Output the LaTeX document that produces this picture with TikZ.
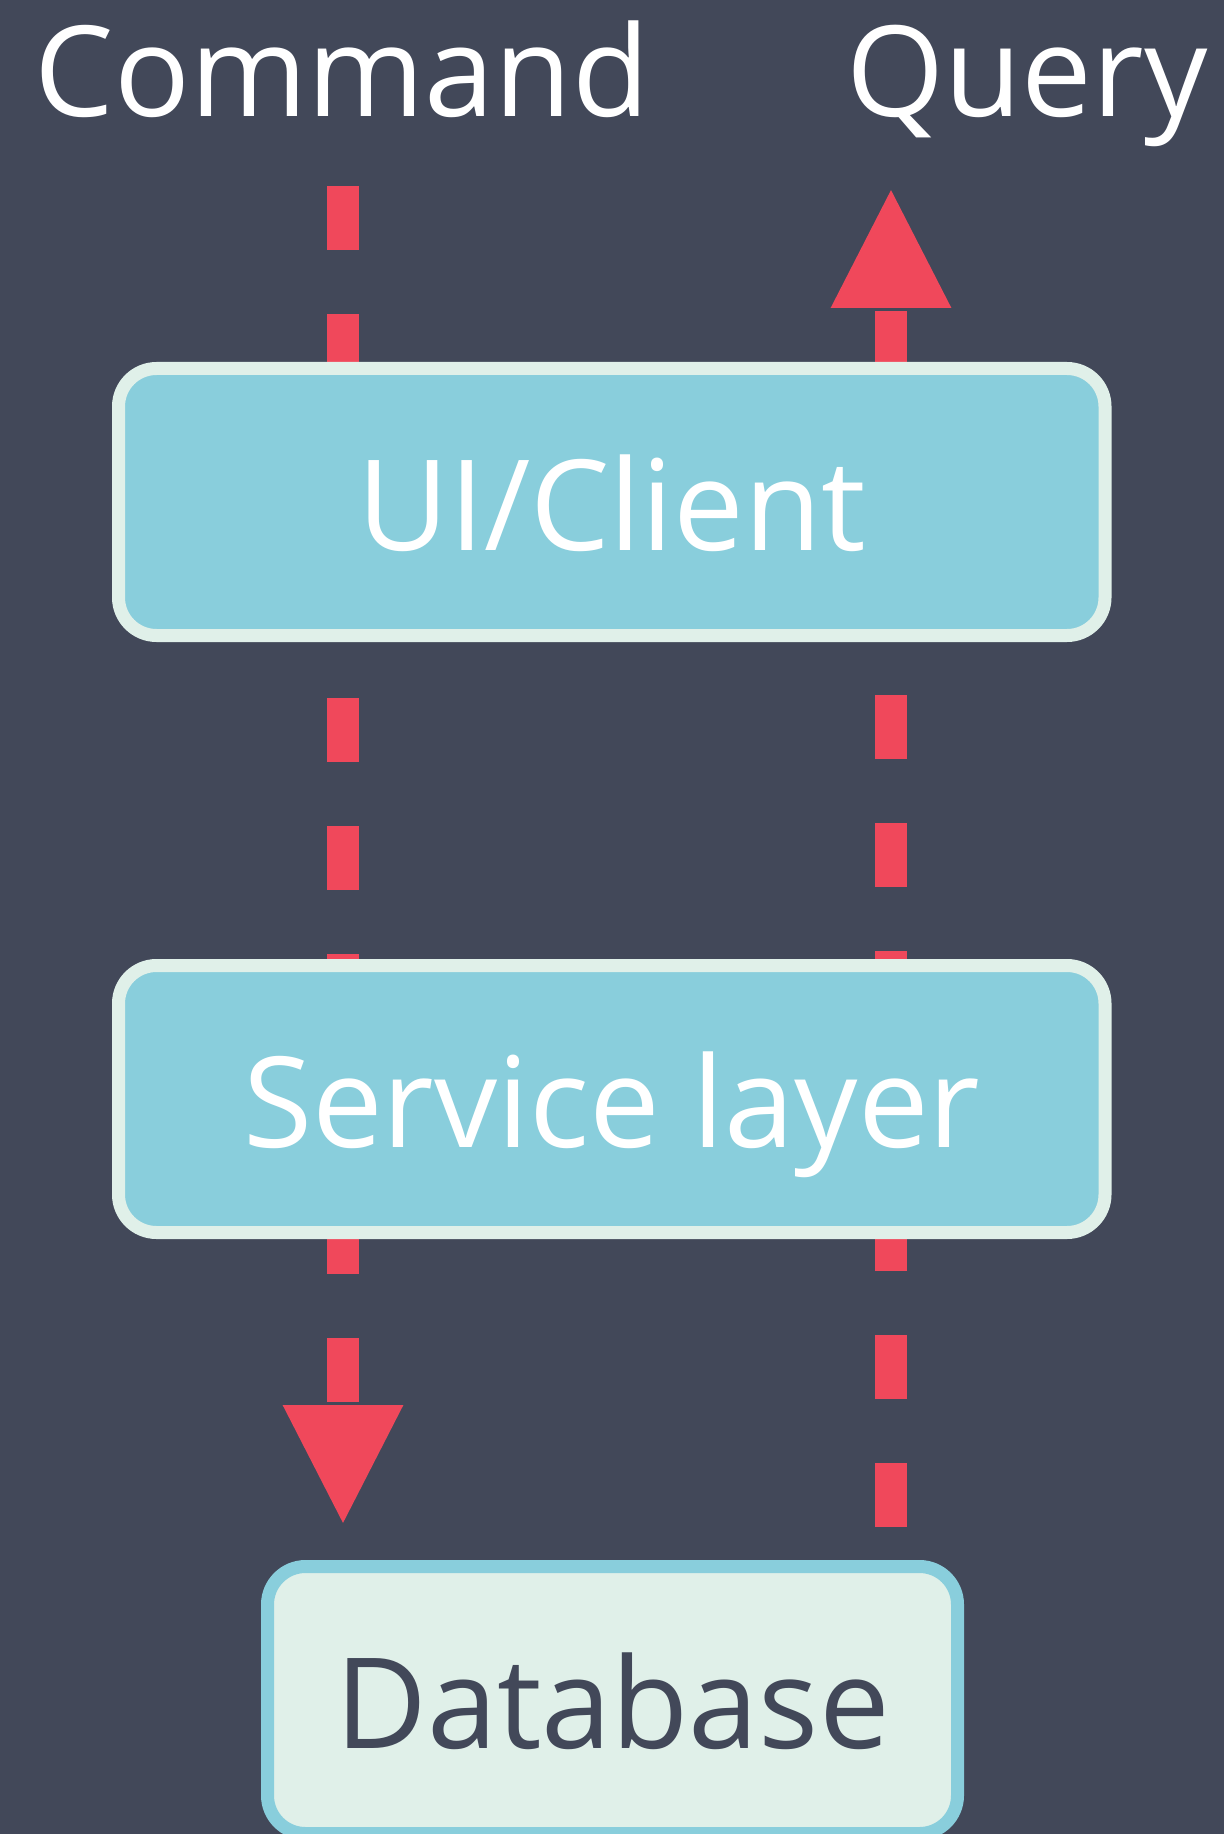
\documentclass[tikz,border=0pt]{standalone}
\usepackage{fontspec}
\setmainfont{Open Sans}
\usetikzlibrary{arrows.meta,shadows}

\definecolor{slate}{HTML}{424859}
\definecolor{flowred}{HTML}{F0485B}
\definecolor{skyfill}{HTML}{89CEDC}
\definecolor{mint}{HTML}{E0F0E9}

\tikzset{
  layerbox/.style={rectangle, rounded corners=19pt, line width=6.5pt,
    minimum width=493.25pt, minimum height=133.5pt, inner sep=0pt,
    text height=48.5pt, text depth=0pt,
    font=\fontsize{63}{70}\selectfont,
    drop shadow={shadow xshift=0pt, shadow yshift=-1.5pt, opacity=0.35, fill=black}},
  appbox/.style={layerbox, draw=mint, fill=skyfill, text=white},
  storebox/.style={layerbox, draw=skyfill, fill=mint, text=slate, minimum width=345pt},
  heading/.style={anchor=base, text=white, inner sep=0pt, font=\fontsize{63}{70}\selectfont},
  flow/.style={draw=flowred, line width=16pt, dash pattern=on 32pt off 32pt,
    -{Triangle[length=60.5pt, width=55.5pt, fill=flowred]}},
}

\begin{document}
\begin{tikzpicture}[x=0.5pt, y=-0.5pt]
  % canvas
  \fill[slate] (0,0) rectangle (1224,1834);
  \useasboundingbox (0,0) rectangle (1224,1834);

  % column headings
  \node[heading] (cmd) at (342,117) {Command};
  \node[heading] (qry) at (1027,117) {Query};

  % end points of the two flows
  \coordinate (cmdStart) at (343,186);
  \coordinate (cmdEnd) at (343,1526);
  \coordinate (qryStart) at (891,1527);
  \coordinate (qryEnd) at (891,187);

  % command flows down, query flows up (drawn behind the layers)
  \draw[flow] (cmdStart) -- (cmdEnd);
  \draw[flow] (qryStart) -- (qryEnd);

  % layers
  \node[appbox] (ui) at (611.75,502) {UI/Client};
  \node[appbox] (svc) at (611.75,1099) {Service layer};
  \node[storebox] (db) at (612.5,1700) {Database};
\end{tikzpicture}
\end{document}
